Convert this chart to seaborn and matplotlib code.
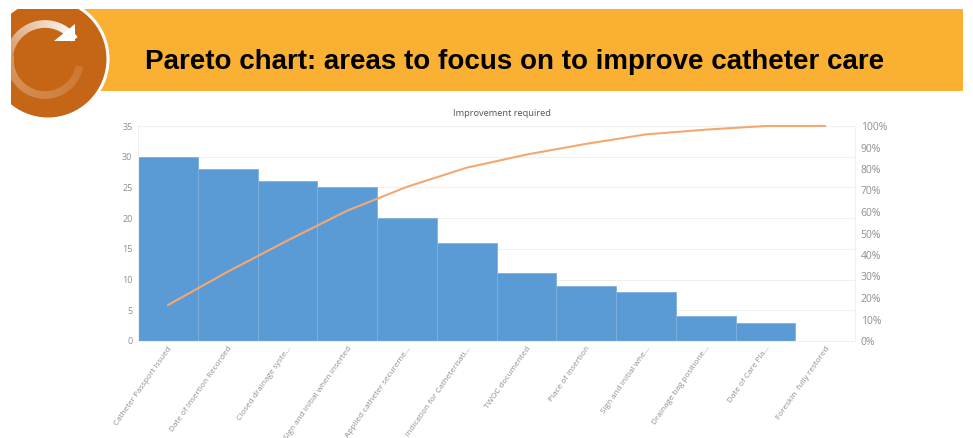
import numpy as np
import pandas as pd
import matplotlib
matplotlib.use("Agg")
import matplotlib.pyplot as plt
import matplotlib.colors as mcolors
import seaborn as sns
from matplotlib.patches import Circle, Rectangle, Arc, Polygon

# chart values
categories = ["Catheter Passport Issued", "Date of Insertion Recorded", "Closed drainage syste...",
              "Sign and initial when inserted", "Applied catheter secureme...",
              "Indication for Catheterisati...", "TWOC documented", "Place of insertion",
              "Sign and initial whe...", "Drainage bag positione...", "Date of Care Pla...",
              "Foreskin  fully restored"]
counts = [30, 28, 26, 25, 20, 16, 11, 9, 8, 4, 3, 0]
cumulative_pct = [16.7, 32.2, 46.7, 60.6, 71.7, 80.6, 86.7, 91.7, 96.1, 98.3, 100, 100]
left_ticks = [0, 5, 10, 15, 20, 25, 30, 35]
right_ticks = [0, 10, 20, 30, 40, 50, 60, 70, 80, 90, 100]

W, H = 973, 438
BAR = "#5b9bd5"
LINE = "#f4a871"
GRID = "#f0f0f0"
TXT = "#8f8f8f"
DISC = "#c56516"

sns.set_theme(style="white")
plt.rcParams["font.family"] = ["Open Sans", "DejaVu Sans"]

df = pd.DataFrame({"category": categories, "count": counts, "cum": cumulative_pct})


def blend(t):
    # opaque mix of disc colour and white
    c0 = np.array(mcolors.to_rgb(DISC))
    return tuple(c0 + (1 - c0) * t)


fig = plt.figure(figsize=(W / 100, H / 100), dpi=100)

# header in pixel coordinates
bg = fig.add_axes([0, 0, 1, 1])
bg.set_xlim(0, W)
bg.set_ylim(H, 0)
bg.axis("off")
bg.add_patch(Rectangle((11, 9), 952, 82, color="#fab133", lw=0))
bg.add_patch(Circle((48, 59), 60, facecolor=DISC, edgecolor="white", lw=2.2))

# logo: fading arrow and lower ring
for i, a in enumerate(np.arange(180, 322, 4)):
    bg.add_patch(Arc((45, 60), 72, 72, theta1=a, theta2=a + 5, color=blend(0.3 + 0.7 * i / 35), lw=5.5))
for i, a in enumerate(np.arange(10, 185, 4)):
    bg.add_patch(Arc((45, 60), 70, 70, theta1=a, theta2=a + 5, color=blend(0.12 + 0.2 * i / 43), lw=5.5))
bg.add_patch(Polygon([[75, 24], [75, 41], [54, 41]], color="white", lw=0))
# the slide is cropped left of the band and above it
bg.add_patch(Rectangle((0, 0), 11, 130, color="white", lw=0))
bg.add_patch(Rectangle((0, 0), 120, 9, color="white", lw=0))

bg.text(145, 62, "Pareto chart: areas to focus on to improve catheter care",
        family=["Liberation Sans"], fontweight="bold", fontsize=20,
        color="black", ha="left", va="center")
bg.text(502, 113, "Improvement required", fontsize=6.7, color="#555555", ha="center", va="center")

# plot area
ax = fig.add_axes([138 / W, 1 - 341 / H, 717 / W, 215 / H])
ax.patch.set_alpha(0)
sns.barplot(data=df, x="category", y="count", color=BAR, saturation=1, width=1,
            edgecolor="#7fb0de", linewidth=0.6, ax=ax, zorder=2)
ax.set_xlim(-0.5, 11.5)
ax.set_ylim(0, 35)
ax.set_yticks(left_ticks)
ax.set_xlabel("")
ax.set_ylabel("")
ax.grid(axis="y", color=GRID, lw=0.8, zorder=0)
ax.set_axisbelow(True)
ax.tick_params(axis="y", labelsize=6.5, colors=TXT, length=0, pad=4)
ax.tick_params(axis="x", labelsize=5.9, colors=TXT, length=0, pad=3)
plt.setp(ax.get_xticklabels(), rotation=55, ha="right", rotation_mode="anchor")
for s in ax.spines.values():
    s.set_color(GRID)
    s.set_linewidth(0.8)

ax2 = ax.twinx()
sns.lineplot(data=df, x="category", y="cum", color=LINE, lw=1.5, ax=ax2, clip_on=False)
ax2.set_ylim(0, 100)
ax2.set_yticks(right_ticks)
ax2.set_yticklabels([f"{t}%" for t in right_ticks])
ax2.set_ylabel("")
ax2.tick_params(axis="y", labelsize=7.5, colors=TXT, length=0, pad=4)
ax2.grid(False)
for s in ax2.spines.values():
    s.set_visible(False)

fig.savefig("out.png", dpi=100)
